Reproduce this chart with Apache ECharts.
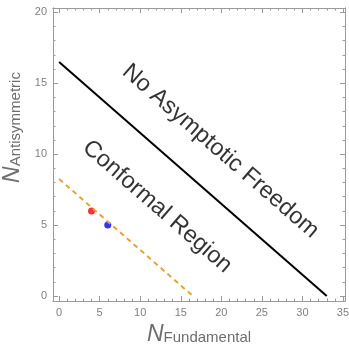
<!DOCTYPE html>
<html>
<head>
<meta charset="utf-8">
<script src="https://cdn.jsdelivr.net/npm/echarts@6/dist/echarts.min.js"></script>
<style>
  html, body { margin: 0; padding: 0; background: #fff; }
  #box { width: 349px; height: 346px; }
</style>
</head>
<body>
<div id="box"></div>
<script>
// 数据
var majorX = [0, 5, 10, 15, 20, 25, 30, 35];
var majorY = [0, 5, 10, 15, 20];
var minorX = [];
for (var i = 0; i <= 35; i++) minorX.push(i);
var minorY = [];
for (var j = 0; j <= 20; j++) minorY.push(j);

var boundaryX = [0, 33];
var boundaryY = [16.5, 0];
var conformalX = [0, 16.5];
var conformalY = [8.25, 0];
var pointX = [4, 6];
var pointY = [6, 5];
var pointColor = ["#ff0000", "#0000ff"];
var regionName = ["No Asymptotic Freedom", "Conformal Region"];
var regionX = [19.9, 12.1];
var regionY = [10.2, 6.3];

var myChart = echarts.init(document.getElementById("box"));
var gray = "#9a9a9a";
var font = "Liberation Sans";

function makeAxis(kind, pos, ticks, len, showLabel) {
  var ax = {
    type: "value",
    position: pos,
    min: kind == "x" ? -0.75 : -0.35,
    max: kind == "x" ? 35.25 : 20.3,
    axisLine: { show: true, onZero: false, lineStyle: { color: gray, width: 1 } },
    axisTick: { show: true, inside: true, length: len, customValues: ticks, lineStyle: { color: gray } },
    axisLabel: { show: showLabel, customValues: ticks, color: "#808080", fontSize: 11, fontFamily: font, margin: 6 },
    splitLine: { show: false },
  };
  return ax;
}

var nameRich = {
  n: { fontSize: 23, fontStyle: "italic", fontFamily: font, color: "#6e6e6e" },
  s: { fontSize: 15, fontFamily: font, color: "#6e6e6e", padding: [7, 0, 0, 0] },
};

var xBottom = makeAxis("x", "bottom", majorX, 5, true);
xBottom.name = "{n|N}{s|Fundamental}";
xBottom.nameLocation = "middle";
xBottom.nameGap = 21;
xBottom.nameTextStyle = { rich: nameRich };

var yLeft = makeAxis("y", "left", majorY, 5, true);
yLeft.name = "{n|N}{s|Antisymmetric}";
yLeft.nameLocation = "middle";
yLeft.nameGap = 22;
yLeft.nameTextStyle = { rich: nameRich, padding: [0, 0, 0, 54] };

var series = [
  {
    type: "line",
    data: boundaryX.map(function (x, k) { return [x, boundaryY[k]]; }),
    symbol: "none",
    lineStyle: { color: "#000", width: 2 },
    silent: true,
  },
  {
    type: "line",
    data: conformalX.map(function (x, k) { return [x, conformalY[k]]; }),
    symbol: "none",
    lineStyle: { color: "#e5a33a", width: 2, type: [5, 4] },
    silent: true,
  },
  {
    type: "scatter",
    data: pointX.map(function (x, k) {
      return { value: [x, pointY[k]], itemStyle: { color: pointColor[k] } };
    }),
    symbolSize: 7,
  },
  {
    type: "scatter",
    data: regionX.map(function (x, k) { return { value: [x, regionY[k]], name: regionName[k] }; }),
    symbolSize: 0,
    label: {
      show: true,
      position: "inside",
      formatter: "{b}",
      rotate: -41,
      fontSize: 23.5,
      fontFamily: font,
      color: "#000",
    },
  },
];

myChart.setOption({
  animation: false,
  grid: { left: 53, right: 4, top: 8, bottom: 45, outerBoundsMode: "none" },
  xAxis: [
    xBottom,
    makeAxis("x", "bottom", minorX, 2.5, false),
    makeAxis("x", "top", majorX, 5, false),
    makeAxis("x", "top", minorX, 2.5, false),
  ],
  yAxis: [
    yLeft,
    makeAxis("y", "left", minorY, 2.5, false),
    makeAxis("y", "right", majorY, 5, false),
    makeAxis("y", "right", minorY, 2.5, false),
  ],
  series: series,
});
</script>
</body>
</html>
